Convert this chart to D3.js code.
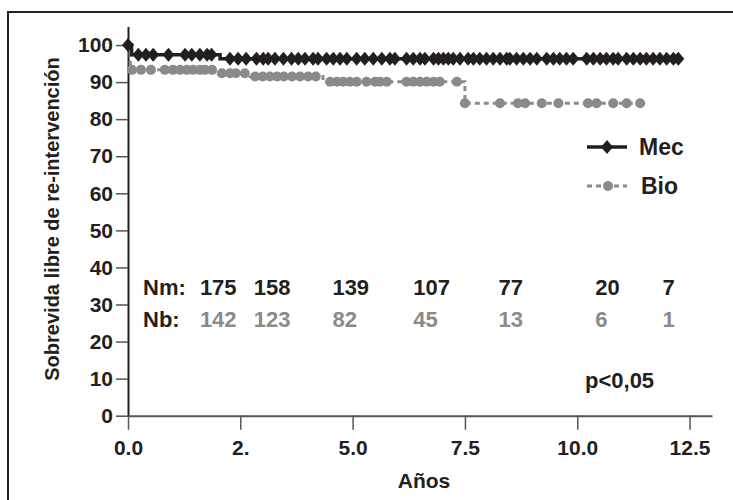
<!DOCTYPE html>
<meta charset="utf-8">

<style>
  body {
    margin: 0;
    background: #fff;
  }
  svg text {
    font-family: "Liberation Sans", Arial, sans-serif;
    font-weight: bold;
  }
  .frame {
    fill: none;
    stroke: #231f20;
    stroke-width: 2px;
  }
  .mecLine {
    fill: none;
    stroke: #231f20;
    stroke-width: 3.5px;
  }
  .bioLine {
    fill: none;
    stroke: #8a8a8a;
    stroke-width: 3px;
    stroke-dasharray: 5, 4;
  }
</style>

<body>
  <svg id="chart" width="733" height="500"></svg>

  <script src="https://d3js.org/d3.v7.min.js"></script>
  <script>

    // axis ticks
    var xTicks = [0, 2.5, 5, 7.5, 10, 12.5];
    var xTickLabels = ["0.0", "2.", "5.0", "7.5", "10.0", "12.5"];
    var yTicks = [0, 10, 20, 30, 40, 50, 60, 70, 80, 90, 100];

    // Kaplan-Meier steps [years, % free of re-intervention]
    var mecSteps = [[0, 100], [0.08, 97.4], [2.05, 96.3], [12.25, 96.3]];
    var bioSteps = [[0, 100], [0.05, 93.3], [1.97, 92.4], [2.72, 91.5], [4.34, 90.1], [7.5, 84.3], [11.4, 84.3]];

    // censored cases (years)
    var mecCensor = [0, 0.23, 0.40, 0.56, 0.90, 1.27, 1.42, 1.60, 1.76, 1.86,
      2.27, 2.45, 2.63, 2.86, 3.01, 3.12, 3.27, 3.46, 3.64, 3.79, 3.94, 4.12, 4.23,
      4.42, 4.57, 4.72, 4.87, 5.09, 5.27, 5.46, 5.65, 5.83, 5.94, 6.20, 6.35, 6.50,
      6.61, 6.80, 6.91, 7.02, 7.13, 7.24, 7.39, 7.57, 7.69, 7.83, 7.98, 8.13, 8.28,
      8.43, 8.50, 8.65, 8.80, 8.95, 9.10, 9.32, 9.47, 9.61, 9.76, 9.91, 10.21, 10.36,
      10.51, 10.65, 10.80, 10.91, 11.10, 11.25, 11.40, 11.54, 11.69, 11.84, 11.99,
      12.14, 12.25];
    var bioCensor = [0.09, 0.29, 0.51, 0.82, 1.00, 1.16, 1.31, 1.45, 1.60, 1.71, 1.87,
      2.09, 2.27, 2.40, 2.60, 2.83, 3.00, 3.16, 3.32, 3.47, 3.65, 3.83, 4.01, 4.18,
      4.50, 4.65, 4.79, 4.94, 5.09, 5.31, 5.50, 5.61, 5.76, 6.20, 6.35, 6.50, 6.65,
      6.80, 6.94, 7.32, 7.50, 8.28, 8.68, 8.84, 9.21, 9.58, 10.24, 10.43, 10.80,
      11.10, 11.40];

    // numbers at risk
    var riskTimes = [1.6, 2.8, 4.55, 6.35, 8.25, 10.4, 11.9];
    var nMec = [175, 158, 139, 107, 77, 20, 7];
    var nBio = [142, 123, 82, 45, 13, 6, 1];

    var black = "#231f20",
        gray = "#8a8a8a";

    var svg = d3.select("#chart");

    svg.append("rect")
      .attr("class", "frame")
      .attr("x", 8)
      .attr("y", 12)
      .attr("width", 740)
      .attr("height", 500);

    var x = d3.scaleLinear().domain([0, 13]).range([128, 712]);
    var y = d3.scaleLinear().domain([0, 105]).range([415.7, 26.5]);

    // y axis
    var yAxis = svg.append("g")
      .attr("transform", "translate(" + x(0) + ",0)")
      .call(d3.axisLeft(y).tickValues(yTicks).tickSize(12).tickPadding(3).tickSizeOuter(0));
    yAxis.select(".domain").attr("stroke", black).attr("stroke-width", 2);
    yAxis.selectAll(".tick line").attr("stroke", "#555").attr("stroke-width", 1.5);
    yAxis.selectAll("text")
      .attr("fill", black)
      .style("font-size", "21px");

    // x axis
    var xAxis = svg.append("g")
      .attr("transform", "translate(0," + y(0) + ")")
      .call(d3.axisBottom(x).tickValues(xTicks)
        .tickFormat(function(d, i) { return xTickLabels[i]; })
        .tickSize(14).tickPadding(10).tickSizeOuter(0));
    xAxis.select(".domain").attr("stroke", "#555").attr("stroke-width", 2);
    xAxis.selectAll(".tick line").attr("stroke", "#555").attr("stroke-width", 1.5);
    xAxis.selectAll("text")
      .attr("fill", black)
      .style("font-size", "21px");

    // axis titles
    svg.append("text")
      .text("Años")
      .attr("x", 424)
      .attr("y", 488)
      .attr("text-anchor", "middle")
      .attr("fill", black)
      .style("font-size", "21px");

    svg.append("text")
      .text("Sobrevida libre de re-intervención")
      .attr("transform", "translate(59,219) rotate(-90)")
      .attr("text-anchor", "middle")
      .attr("fill", black)
      .style("font-size", "20px");

    // curves
    var line = d3.line()
      .x(function(d) { return x(d[0]); })
      .y(function(d) { return y(d[1]); })
      .curve(d3.curveStepAfter);

    function survivalAt(steps, t) {
      var s = steps[0][1];
      steps.forEach(function(d) { if (d[0] <= t) s = d[1]; });
      return s;
    }

    var diamond = "M0,-7L6,0L0,7L-6,0Z";

    svg.append("path")
      .datum(bioSteps)
      .attr("class", "bioLine")
      .attr("d", line);

    svg.append("g").selectAll("circle")
      .data(bioCensor)
      .enter().append("circle")
        .attr("cx", function(d) { return x(d); })
        .attr("cy", function(d) { return y(survivalAt(bioSteps, d)); })
        .attr("r", 5)
        .attr("fill", gray);

    svg.append("path")
      .datum(mecSteps)
      .attr("class", "mecLine")
      .attr("d", line);

    svg.append("g").selectAll("path")
      .data(mecCensor)
      .enter().append("path")
        .attr("d", diamond)
        .attr("transform", function(d) {
          var yy = d === 0 ? y(100) : y(survivalAt(mecSteps, d));
          return "translate(" + x(d) + "," + yy + ")";
        })
        .attr("fill", black);

    // legend
    var legend = svg.append("g");
    legend.append("line")
      .attr("x1", 587).attr("x2", 627).attr("y1", 147).attr("y2", 147)
      .attr("class", "mecLine");
    legend.append("path")
      .attr("d", diamond)
      .attr("transform", "translate(607,147)")
      .attr("fill", black);
    legend.append("text")
      .text("Mec")
      .attr("x", 639).attr("y", 155)
      .attr("fill", black)
      .style("font-size", "23px");

    legend.append("line")
      .attr("x1", 587).attr("x2", 627).attr("y1", 186).attr("y2", 186)
      .attr("class", "bioLine");
    legend.append("circle")
      .attr("cx", 608).attr("cy", 186).attr("r", 5)
      .attr("fill", gray);
    legend.append("text")
      .text("Bio")
      .attr("x", 641).attr("y", 194)
      .attr("fill", black)
      .style("font-size", "23px");

    // numbers at risk
    svg.append("text")
      .text("Nm:")
      .attr("x", 143).attr("y", 295)
      .attr("fill", black)
      .style("font-size", "22px");
    svg.append("text")
      .text("Nb:")
      .attr("x", 143).attr("y", 327)
      .attr("fill", black)
      .style("font-size", "22px");

    svg.append("g").selectAll("text")
      .data(nMec)
      .enter().append("text")
        .text(function(d) { return d; })
        .attr("x", function(d, i) { return x(riskTimes[i]); })
        .attr("y", 295)
        .attr("fill", black)
        .style("font-size", "22px");

    svg.append("g").selectAll("text")
      .data(nBio)
      .enter().append("text")
        .text(function(d) { return d; })
        .attr("x", function(d, i) { return x(riskTimes[i]); })
        .attr("y", 327)
        .attr("fill", gray)
        .style("font-size", "22px");

    svg.append("text")
      .text("p<0,05")
      .attr("x", 585).attr("y", 388)
      .attr("fill", black)
      .style("font-size", "22px");

  </script>
</body>
